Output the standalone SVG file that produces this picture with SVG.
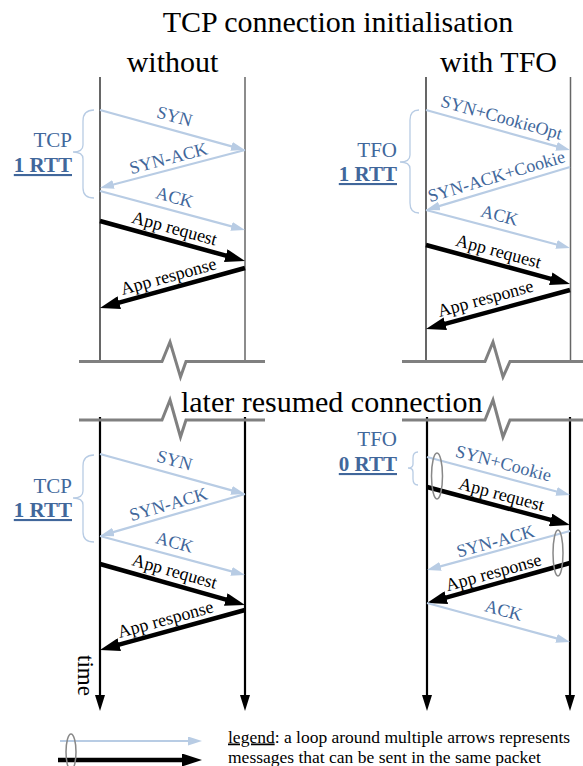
<svg xmlns="http://www.w3.org/2000/svg" width="583" height="766" viewBox="0 0 583 766">
<style>
text{font-family:"Liberation Serif","Times New Roman",serif}
.title{font-size:30px;fill:#000}
.lbl{font-size:18px;text-anchor:middle}
.lb{fill:#41679b}
.bk{fill:#000}
.side{font-size:21px;fill:#41679b;text-anchor:end}
.rtt{font-weight:bold;text-decoration:underline}
.la{stroke:#b8cce4;stroke-width:2.2;fill:none;marker-end:url(#hl)}
.ba{stroke:#000;stroke-width:4.5;fill:none;marker-end:url(#hb)}
.brace{stroke:#b8cce4;stroke-width:1.3;fill:none}
.brk{stroke:#808080;stroke-width:3;fill:none;stroke-linejoin:miter}
.thinL{stroke:#000;stroke-width:1.2}
.thinR{stroke:#666;stroke-width:1.5}
.thick{stroke:#000;stroke-width:2.2}
.loop{stroke:#888;stroke-width:1.5;fill:none}
.leg{font-size:17.5px;fill:#000}
</style>
<defs>
<marker id="hl" markerUnits="userSpaceOnUse" viewBox="0 0 14 9" markerWidth="14" markerHeight="9" refX="3" refY="4.5" orient="auto"><path d="M0,0 L14,4.5 L0,9 z" fill="#b8cce4"/></marker>
<marker id="hb" markerUnits="userSpaceOnUse" viewBox="0 0 20 13" markerWidth="20" markerHeight="13" refX="4" refY="6.5" orient="auto"><path d="M0,0 L20,6.5 L0,13 z" fill="#000"/></marker>
</defs>

<g id="titles">
<text class="title" x="338" y="32" text-anchor="middle">TCP connection initialisation</text>
<text class="title" x="172.5" y="72" text-anchor="middle">without</text>
<text class="title" x="498.5" y="72" text-anchor="middle">with TFO</text>
<text class="title" x="331.7" y="411.7" text-anchor="middle">later resumed connection</text>
</g>

<g id="timelines">
<line class="thinL" x1="100" y1="77" x2="100" y2="361"/>
<line class="thinR" x1="245" y1="77" x2="245" y2="361"/>
<line class="thinL" x1="426" y1="77" x2="426" y2="361"/>
<line class="thinR" x1="570.5" y1="77" x2="570.5" y2="361"/>
<line class="thick" x1="100" y1="417" x2="100" y2="697"/>
<line class="thick" x1="245" y1="417" x2="245" y2="697"/>
<line class="thick" x1="427" y1="417" x2="427" y2="697"/>
<line class="thick" x1="570" y1="417" x2="570" y2="697"/>
<path d="M95,695 L105,695 L100,711 z M240,695 L250,695 L245,711 z M422,695 L432,695 L427,711 z M565,695 L575,695 L570,711 z" fill="#000"/>
<text x="0" y="0" font-size="23" transform="translate(78,655) rotate(90)">time</text>
</g>

<g id="breaks">
<path class="brk" d="M79,361.5 L162,361.5 L170,342 L180.5,377 L186,361.5 L265,361.5"/>
<path class="brk" d="M402,361.5 L485,361.5 L493,342 L503,377 L510,361.5 L585,361.5"/>
<path class="brk" d="M79,420 L162,420 L170,400 L180.5,437 L186,420 L265,420"/>
<path class="brk" d="M402,420 L485,420 L493,400 L503,437 L510,420 L585,420"/>
</g>

<g id="connectors">
<line class="la" x1="100" y1="110" x2="234.4" y2="147.1"/>
<line class="la" x1="245" y1="150" x2="110.6" y2="185.2"/>
<line class="la" x1="100" y1="191" x2="234.4" y2="227.1"/>
<line class="ba" x1="100" y1="221" x2="229.6" y2="256.7"/>
<line class="ba" x1="245" y1="268" x2="115.4" y2="303.7"/>
<line class="la" x1="426" y1="110" x2="559.4" y2="147.1"/>
<line class="la" x1="570" y1="167" x2="436.5" y2="206.9"/>
<line class="la" x1="426" y1="210" x2="559.4" y2="245.2"/>
<line class="ba" x1="426" y1="245" x2="554.6" y2="279.8"/>
<line class="ba" x1="570" y1="290" x2="441.4" y2="324.8"/>
<line class="la" x1="100" y1="454" x2="234.4" y2="491.1"/>
<line class="la" x1="245" y1="494" x2="110.6" y2="532.9"/>
<line class="la" x1="100" y1="536" x2="234.4" y2="572.1"/>
<line class="ba" x1="100" y1="564" x2="229.6" y2="600.6"/>
<line class="ba" x1="245" y1="610" x2="115.4" y2="645.7"/>
<line class="la" x1="427" y1="457" x2="559.4" y2="492.2"/>
<line class="ba" x1="427" y1="487" x2="554.5" y2="520.9"/>
<line class="la" x1="570" y1="531" x2="437.6" y2="567.1"/>
<line class="ba" x1="570" y1="563" x2="442.4" y2="598.7"/>
<line class="la" x1="427" y1="603" x2="559.4" y2="639.1"/>
</g>

<g id="labels">
<text class="lbl lb" transform="translate(173,122) rotate(15.4)">SYN</text>
<text class="lbl lb" transform="translate(170,164) rotate(-14.7)">SYN-ACK</text>
<text class="lbl lb" transform="translate(173,203) rotate(15)">ACK</text>
<text class="lbl bk" transform="translate(173,234) rotate(15.4)">App request</text>
<text class="lbl bk" transform="translate(170,282) rotate(-15.4)">App response</text>

<text class="lbl lb" transform="translate(500,123) rotate(15.5)">SYN+CookieOpt</text>
<text class="lbl lb" transform="translate(498,182) rotate(-16.6)">SYN-ACK+Cookie</text>
<text class="lbl lb" transform="translate(498,221) rotate(14.8)">ACK</text>
<text class="lbl bk" transform="translate(497,257) rotate(15.2)">App request</text>
<text class="lbl bk" transform="translate(487,304) rotate(-15.2)">App response</text>

<text class="lbl lb" transform="translate(173,466) rotate(15.4)">SYN</text>
<text class="lbl lb" transform="translate(170,510) rotate(-16.2)">SYN-ACK</text>
<text class="lbl lb" transform="translate(173,548) rotate(15)">ACK</text>
<text class="lbl bk" transform="translate(173,577) rotate(15.8)">App request</text>
<text class="lbl bk" transform="translate(167,625) rotate(-15.4)">App response</text>

<text class="lbl lb" transform="translate(502,469) rotate(14.9)">SYN+Cookie</text>
<text class="lbl bk" transform="translate(500,500) rotate(14.9)">App request</text>
<text class="lbl lb" transform="translate(497,547) rotate(-15.3)">SYN-ACK</text>
<text class="lbl bk" transform="translate(495,578) rotate(-15.6)">App response</text>
<text class="lbl lb" transform="translate(502,616) rotate(15.3)">ACK</text>
</g>

<g id="note-tl">
<path class="brace" d="M94,110 Q83,110 83,121 L83,145 Q83,152 73,152 Q83,152 83,159 L83,188 Q83,198 94,198"/>
<text class="side" x="72" y="147">TCP</text>
<text class="side rtt" x="72" y="172">1 RTT</text>
</g>
<g id="note-tr">
<path class="brace" d="M419,110 Q410,110 410,120 L410,155 Q410,162 400,162 Q410,162 410,169 L410,203 Q410,213 419,213"/>
<text class="side" x="397" y="157">TFO</text>
<text class="side rtt" x="397" y="181">1 RTT</text>
</g>
<g id="note-bl">
<path class="brace" d="M94,455 Q83,455 83,466 L83,491 Q83,498 73,498 Q83,498 83,505 L83,532 Q83,542 94,542"/>
<text class="side" x="72" y="493">TCP</text>
<text class="side rtt" x="72" y="517">1 RTT</text>
</g>
<g id="note-br">
<path class="brace" d="M418,452 Q413,452 413,458 L413,464 Q413,468 408,468 Q413,468 413,472 L413,479 Q413,485 418,485"/>
<text class="side" x="397" y="446">TFO</text>
<text class="side rtt" x="397" y="471">0 RTT</text>
</g>

<g id="loops">
<ellipse class="loop" cx="437" cy="476" rx="5.5" ry="23"/>
<ellipse class="loop" cx="558" cy="553" rx="5" ry="23"/>
</g>

<g id="legend">
<line class="la" x1="60" y1="741" x2="191" y2="741"/>
<line class="ba" x1="58" y1="760" x2="186" y2="760"/>
<ellipse class="loop" cx="71" cy="752" rx="5" ry="18"/>
<text class="leg" x="228" y="742.5"><tspan text-decoration="underline">legend</tspan>: a loop around multiple arrows represents</text>
<text class="leg" x="228" y="763">messages that can be sent in the same packet</text>
</g>
</svg>
